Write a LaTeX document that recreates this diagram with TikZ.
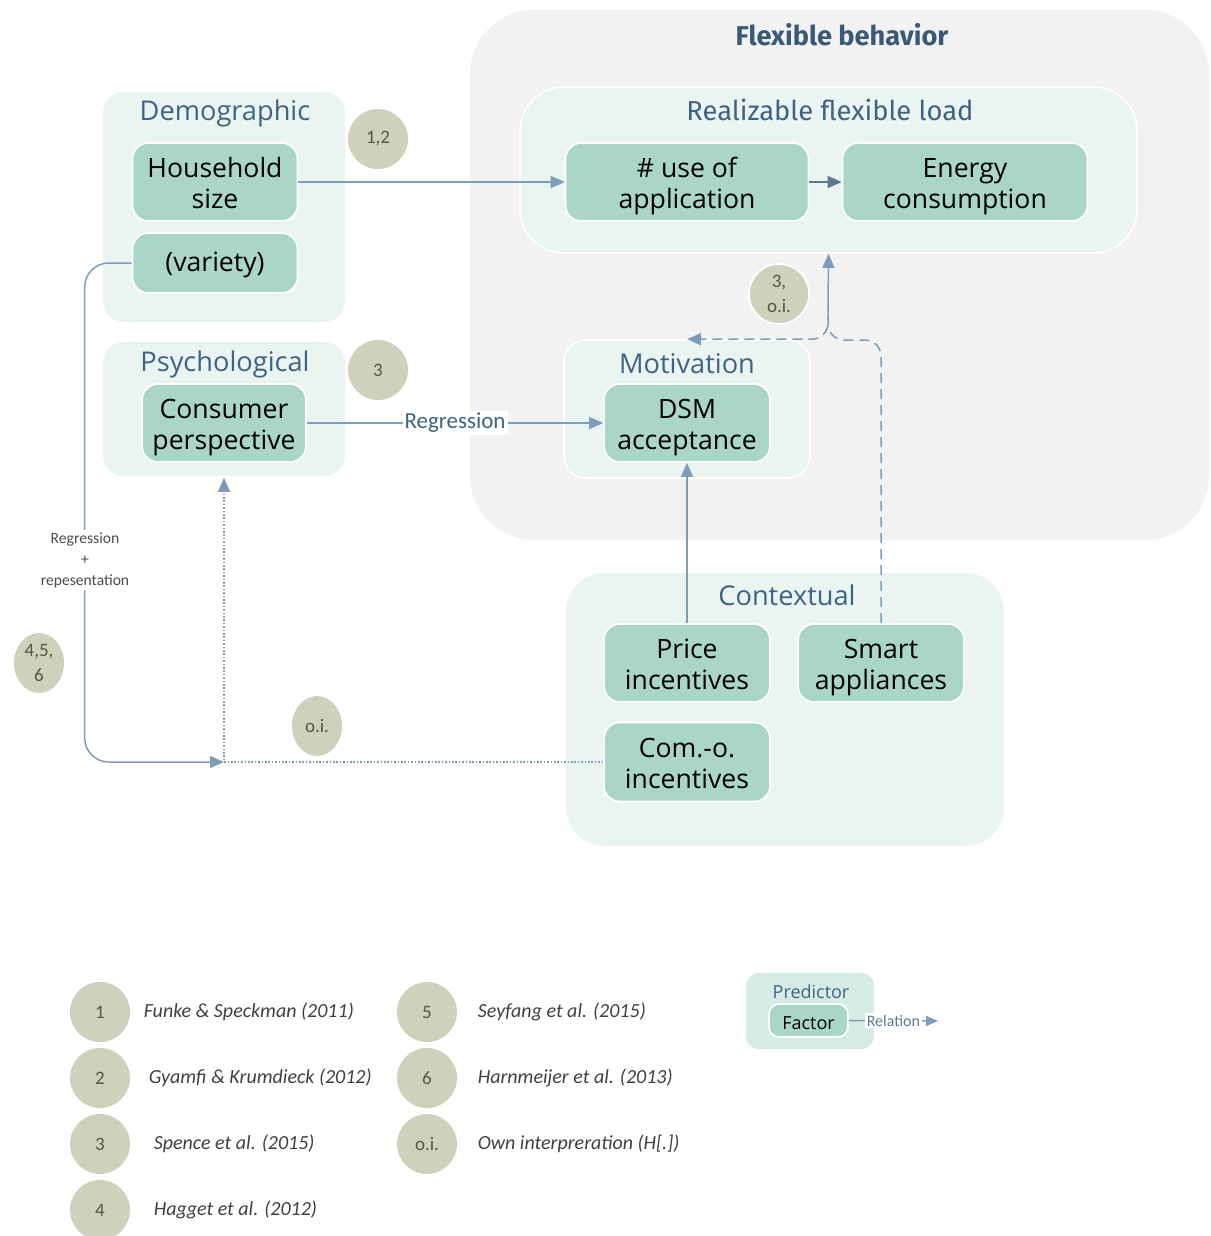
\documentclass[tikz,border=0pt]{standalone}
\usepackage{fontspec}
\setmainfont{Open Sans}
\newfontfamily\calfont{Carlito}
\newfontfamily\firafont{Fira Sans}
\usetikzlibrary{arrows.meta,positioning,shapes.geometric}
\definecolor{groupfill}{HTML}{EAF4F1}
\definecolor{predfill}{HTML}{D6EBE4}
\definecolor{boxfill}{HTML}{AAD5C9}
\definecolor{titleblue}{HTML}{3F6384}
\definecolor{relblue}{HTML}{7F9DBA}
\definecolor{reldark}{HTML}{5F7891}
\definecolor{refgray}{HTML}{CED1BC}
\definecolor{refink}{HTML}{57573F}
\definecolor{behavfill}{HTML}{F2F2F2}
\newcommand{\twolines}[2]{\rule{0pt}{15.9pt}#1\\#2\strut}
\tikzset
{
	groupnode/.style = {rectangle, fill=groupfill, draw=white, line width=0.8pt, inner sep=0pt},
	factornode/.style = {rectangle, rounded corners=8pt, fill=boxfill, draw=white, line width=0.8pt, inner sep=0pt, align=center, font=\fontsize{13.3}{15.5}\selectfont, minimum width=82.5pt, minimum height=39pt},
	grouptitle/.style = {text=titleblue, inner sep=0pt, font=\fontsize{13.6}{15}\selectfont},
	refnode/.style = {ellipse, fill=refgray, text=refink, align=center, minimum width=30pt, minimum height=30pt, inner sep=0pt, font=\calfont\fontsize{9.5}{12.5}\selectfont},
	citetext/.style = {text=black!75, inner sep=0pt, font=\calfont\itshape\fontsize{10}{12}\selectfont},
	relation/.style = {draw=relblue, line width=0.75pt, -{Triangle[length=7pt,width=6pt]}},
	reltext/.style = {fill=white, text=titleblue, inner sep=1pt, font=\calfont\fontsize{11.5}{12}\selectfont}
}

\begin{document}
\begin{tikzpicture}[x=0.5pt,y=-0.5pt]
\useasboundingbox (0,0) rectangle (1210,1236);

% flexible behavior
\node[rectangle, fill=behavfill, rounded corners=32pt, minimum width=369.5pt, minimum height=265pt] (behav) at (839.5,275) {};
\node[text=titleblue!90!black, font=\firafont\bfseries\fontsize{13.6}{15}\selectfont] (behavt) at (842,35) {Flexible behavior};
\node[groupnode, rounded corners=22pt, minimum width=308.5pt, minimum height=83pt] (real) at (828.5,170) {};
\node[grouptitle, font=\firafont\fontsize{13.7}{15}\selectfont] (realt) at (830,110) {Realizable flexible load};
\node[factornode, minimum width=121.5pt] (use) at (687,182) {\twolines{\# use of}{application}};
\node[factornode, minimum width=122.5pt] (energy) at (965,182) {\twolines{Energy}{consumption}};

\node[groupnode, rounded corners=11pt, minimum width=123pt, minimum height=69pt] (motiv) at (687,409) {};
\node[grouptitle] (motivt) at (687,364) {Motivation};
\node[factornode, minimum width=83pt] (dsm) at (687,423) {\twolines{DSM}{acceptance}};

% predictors
\node[groupnode, rounded corners=11pt, minimum width=122pt, minimum height=116pt] (demo) at (224,207) {};
\node[grouptitle] (demot) at (225,113) {Demographic};
\node[factornode] (hh) at (215,182) {\twolines{Household}{size}};
\node[factornode, minimum height=30pt] (var) at (215,263) {\rule{0pt}{12.9pt}(variety)\strut};

\node[groupnode, rounded corners=11pt, minimum width=122pt, minimum height=68pt] (psych) at (224,409) {};
\node[grouptitle] (psycht) at (225,364) {Psychological};
\node[factornode, minimum width=82pt] (cons) at (224,423) {\twolines{Consumer}{perspective}};

\node[groupnode, rounded corners=20pt, minimum width=220pt, minimum height=137.5pt] (context) at (785,709.5) {};
\node[grouptitle] (contextt) at (787,595) {Contextual};
\node[factornode, minimum width=83pt] (price) at (687,663) {\twolines{Price}{incentives}};
\node[factornode, minimum width=83pt] (smart) at (881,663) {\twolines{Smart}{appliances}};
\node[factornode, minimum width=83pt, minimum height=39.5pt] (como) at (687,762) {\twolines{Com.-o.}{incentives}};

% references
\node[refnode] (r12) at (378,139) {1,2};
\node[refnode] (r3) at (378,370) {3};
\node[refnode, draw=white, line width=0.8pt] (r3oi) at (779,294) {3,\\o.i.};
\node[refnode, minimum width=25pt] (r456) at (39,663) {4,5,\\6};
\node[refnode, minimum width=25pt] (roi) at (317,726) {o.i.};

\coordinate (jn) at (828,310);
\coordinate (loop) at (224,762);

\draw[relation] (hh.east) -- (use.west);
\draw[relation, draw=reldark] (use.east) -- (energy.west);
\draw[relation] (cons.east) -- node[reltext] (regr) {Regression} (dsm.west);
\draw[relation] (price.north) -- (dsm.south);
\draw[relation, dash pattern=on 5pt off 3pt, -, rounded corners=8pt] (smart.north) |- (828,340) -- (jn);
\draw[relation] (jn) -- (real.south);
\draw[relation, dash pattern=on 5pt off 3pt, rounded corners=8pt] (jn) |- (motiv.north);
\draw[relation, rounded corners=12pt] (var.west) -- ++(-47,0) |- (loop);
\node[reltext, align=center, text=black!70, font=\calfont\fontsize{7.8}{10.5}\selectfont] (regrep) at (85,560) {Regression\\+\\repesentation};
\draw[relation, dash pattern=on 0.8pt off 0.9pt] (como.west) -- (loop) -- (psych.south);

% legend
\node[refnode] (c1) at (100,1012) {1};
\node[refnode] (c2) at (100,1078) {2};
\node[refnode] (c3) at (100,1144) {3};
\node[refnode] (c4) at (100,1210) {4};
\node[refnode] (c5) at (427,1012) {5};
\node[refnode] (c6) at (427,1078) {6};
\node[refnode] (coi) at (427,1144) {o.i.};
\node[citetext, right=6.5pt of c1] (t1) {Funke \& Speckman (2011)};
\node[citetext, right=9pt of c2] (t2) {Gyamfi \& Krumdieck (2012)};
\node[citetext, right=11.5pt of c3] (t3) {Spence et al. (2015)};
\node[citetext, right=11.5pt of c4] (t4) {Hagget et al. (2012)};
\node[citetext, right=10pt of c5] (t5) {Seyfang et al. (2015)};
\node[citetext, right=10pt of c6] (t6) {Harnmeijer et al. (2013)};
\node[citetext, right=10pt of coi] (toi) {Own interpreration (H[.])};

\node[groupnode, fill=predfill, rounded corners=7pt, minimum width=65pt, minimum height=39pt] (pred) at (810,1011) {};
\node[grouptitle, font=\fontsize{9}{11}\selectfont] (predt) at (811,992) {Predictor};
\node[factornode, rounded corners=5pt, minimum width=39.5pt, minimum height=16.5pt, font=\fontsize{9}{11}\selectfont] (fac) at (808.5,1020.5) {\rule{0pt}{12.5pt}Factor\strut};
\coordinate (relend) at (938,1021);
\draw[relation, -{Triangle[length=6pt,width=5pt]}] (fac.east) -- node[reltext, text=reldark, font=\calfont\fontsize{8}{10}\selectfont] (relt) {Relation} (relend);
\end{tikzpicture}
\end{document}
